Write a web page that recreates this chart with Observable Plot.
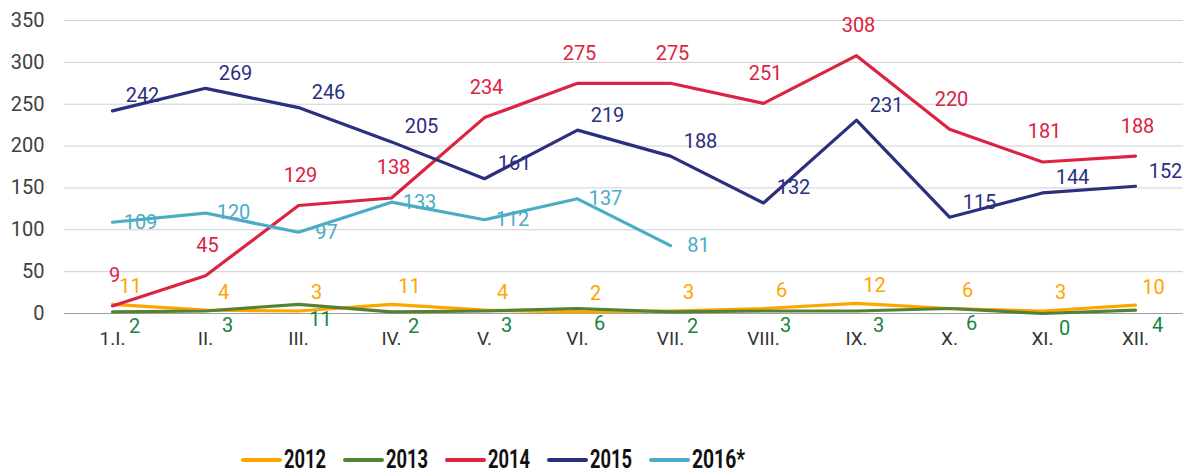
<!DOCTYPE html>
<html>
<head>
<meta charset="utf-8">
<script src="https://cdn.jsdelivr.net/npm/d3@7"></script>
<script src="https://cdn.jsdelivr.net/npm/@observablehq/plot@0.6"></script>
<style>
  html, body { margin: 0; padding: 0; background: #ffffff; }
  body { width: 1202px; height: 474px; overflow: hidden; font-family: Roboto, "Noto Sans", sans-serif; }
  #legend svg { display: block; }
</style>
</head>
<body>
<div id="chart"></div>
<div id="legend"></div>
<script>
const months = ["1.I.", "II.", "III.", "IV.", "V.", "VI.", "VII.", "VIII.", "IX.", "X.", "XI.", "XII."];
const seriesNames = ["2012", "2013", "2014", "2015", "2016*"];
const v2012 = [11, 4, 3, 11, 4, 2, 3, 6, 12, 6, 3, 10];
const v2013 = [2, 3, 11, 2, 3, 6, 2, 3, 3, 6, 0, 4];
const v2014 = [9, 45, 129, 138, 234, 275, 275, 251, 308, 220, 181, 188];
const v2015 = [242, 269, 246, 205, 161, 219, 188, 132, 231, 115, 144, 152];
const v2016 = [109, 120, 97, 133, 112, 137, 81];
const yTicks = [0, 50, 100, 150, 200, 250, 300, 350];

const values = [v2012, v2013, v2014, v2015, v2016];
const lineColors = ["#FFA500", "#548235", "#DC2342", "#2B2F7E", "#4BACC6"];
const labelColors = ["#FFA500", "#178440", "#DC2342", "#2B2F7E", "#4BACC6"];
const labelDx = [18, 22, 2, 30, 28];
const labelDy = [-18, 15, -30, -15, 0];

const rows = [];
seriesNames.forEach((s, i) => values[i].forEach((v, j) => rows.push({series: s, month: months[j], value: v})));

const marks = [
  Plot.ruleY(yTicks.filter(t => t > 0), {stroke: "#cfcfcf", strokeWidth: 1}),
  Plot.ruleY([0], {stroke: "#a0a0a0", strokeWidth: 1.2}),
  Plot.axisY({ticks: yTicks, tickSize: 0, tickPadding: 20, fontSize: 20, fill: "#404040", label: null}),
  Plot.axisX({tickSize: 0, tickPadding: 18, fontSize: 19, fill: "#333", label: null})
];
seriesNames.forEach((s, i) => {
  const d = rows.filter(r => r.series === s);
  marks.push(Plot.line(d, {x: "month", y: "value", stroke: lineColors[i], strokeWidth: 3.2, strokeLinejoin: "round"}));
});
seriesNames.forEach((s, i) => {
  const d = rows.filter(r => r.series === s);
  marks.push(Plot.text(d, {x: "month", y: "value", text: d => String(d.value), fill: labelColors[i], fontSize: 20, dx: labelDx[i], dy: labelDy[i]}));
});

const chart = Plot.plot({
  width: 1202,
  height: 440,
  marginLeft: 64,
  marginRight: 19,
  marginTop: 20,
  marginBottom: 127,
  style: {fontFamily: "Roboto, 'Noto Sans', sans-serif", background: "#ffffff", overflow: "visible"},
  x: {type: "point", domain: months, padding: 0.5},
  y: {domain: [0, 350]},
  marks
});
document.getElementById("chart").appendChild(chart);

// Legend below the plot
const lg = d3.create("svg").attr("width", 1202).attr("height", 34);
seriesNames.forEach((s, i) => {
  const x0 = 240 + i * 102;
  lg.append("line").attr("x1", x0 + 3).attr("x2", x0 + 40).attr("y1", 20).attr("y2", 20)
    .attr("stroke", lineColors[i]).attr("stroke-width", 4).attr("stroke-linecap", "round");
  lg.append("text").attr("x", x0 + 44).attr("y", 28)
    .attr("font-family", "Roboto, sans-serif").attr("font-weight", "bold").attr("font-size", 25)
    .attr("fill", "#111")
    .attr("textLength", s.length === 5 ? 53 : 42).attr("lengthAdjust", "spacingAndGlyphs")
    .text(s);
});
document.getElementById("legend").appendChild(lg.node());
</script>
</body>
</html>
